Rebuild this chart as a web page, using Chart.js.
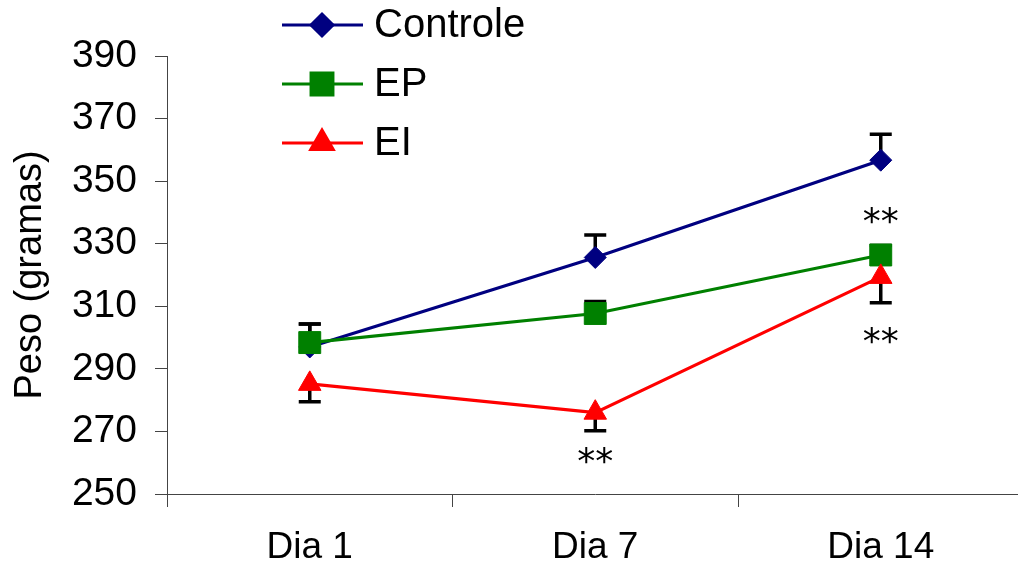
<!DOCTYPE html>
<html>
<head>
<meta charset="utf-8">
<script src="https://cdn.jsdelivr.net/npm/chart.js@4/dist/chart.umd.min.js"></script>
<style>
  html, body { margin: 0; padding: 0; background: #fff; overflow: hidden; }
  #wrap { width: 1040px; height: 571px; }
</style>
</head>
<body>
<div id="wrap"><canvas id="grafico" width="1040" height="571"></canvas></div>
<script>
// dados
const dias = ['Dia 1', 'Dia 7', 'Dia 14'];
const controle = [297, 325.6, 356.7];
const controleErro = [7.3, 7.2, 8.3];
const ep = [298.4, 307.7, 326.4];
const epErro = [5.9, 3.8, 3];
const ei = [285.2, 276, 319.4];
const eiErro = [5.7, 5.8, 8.3];
const ticksY = [250, 270, 290, 310, 330, 350, 370, 390];

// marcas de significância
const sigTexto = ['**', '**', '**'];
const sigDia = ['Dia 7', 'Dia 14', 'Dia 14'];
const sigValor = [261.9, 338.4, 300.3];

const fonte = 'Liberation Sans, Arial, sans-serif';

// barras de erro (controle e EP para cima, EI para baixo)
const barrasErro = {
    id: 'barrasErro',
    beforeDatasetsDraw(chart) {
        const ctx = chart.ctx;
        const x = chart.scales.x, y = chart.scales.y;
        const erros = [controleErro, epErro, eiErro];
        const sentido = [1, 1, -1];
        ctx.save();
        ctx.strokeStyle = '#000';
        ctx.lineWidth = 3.5;
        chart.data.datasets.forEach((ds, i) => {
            ds.data.forEach((v, j) => {
                const px = x.getPixelForValue(j);
                const p0 = y.getPixelForValue(v);
                const p1 = y.getPixelForValue(v + sentido[i] * erros[i][j]);
                ctx.beginPath();
                ctx.moveTo(px, p0);
                ctx.lineTo(px, p1);
                ctx.moveTo(px - 11, p1);
                ctx.lineTo(px + 11, p1);
                ctx.stroke();
            });
        });
        ctx.restore();
    },
    afterDatasetsDraw(chart) {
        const ctx = chart.ctx;
        const x = chart.scales.x, y = chart.scales.y;
        ctx.save();
        ctx.fillStyle = '#000';
        ctx.font = '36px "DejaVu Sans", sans-serif';
        ctx.textAlign = 'center';
        ctx.textBaseline = 'alphabetic';
        sigTexto.forEach((t, k) => {
            const px = x.getPixelForValue(dias.indexOf(sigDia[k]));
            const py = y.getPixelForValue(sigValor[k]);
            ctx.fillText(t, px, py + 16);
        });
        ctx.restore();
    }
};

// legenda vertical no canto superior
const legenda = {
    id: 'legenda',
    afterDraw(chart) {
        const ctx = chart.ctx;
        ctx.save();
        chart.data.datasets.forEach((ds, i) => {
            const yy = 25 + i * 59;
            ctx.strokeStyle = ds.borderColor;
            ctx.lineWidth = 3;
            ctx.beginPath();
            ctx.moveTo(282, yy);
            ctx.lineTo(363, yy);
            ctx.stroke();
            ctx.fillStyle = ds.backgroundColor;
            Chart.helpers.drawPoint(ctx, {
                pointStyle: ds.pointStyle,
                radius: ds.pointRadius,
                borderWidth: 1
            }, 322, yy);
            ctx.fillStyle = '#000';
            ctx.font = '40px ' + fonte;
            ctx.textAlign = 'left';
            ctx.textBaseline = 'middle';
            ctx.fillText(ds.label, 374, yy + 1);
        });
        ctx.restore();
    }
};

new Chart(document.getElementById('grafico').getContext('2d'), {
    type: 'line',
    data: {
        labels: dias,
        datasets: [
            {
                label: 'Controle', data: controle, order: 3,
                borderColor: '#000080', backgroundColor: '#000080',
                pointStyle: 'rectRot', pointRadius: 11, pointBorderWidth: 1
            },
            {
                label: 'EP', data: ep, order: 2,
                borderColor: '#008000', backgroundColor: '#008000',
                pointStyle: 'rect', pointRadius: 15.5, pointBorderWidth: 1
            },
            {
                label: 'EI', data: ei, order: 1,
                borderColor: '#ff0000', backgroundColor: '#ff0000',
                pointStyle: 'triangle', pointRadius: 13, pointBorderWidth: 1
            }
        ]
    },
    options: {
        responsive: false,
        animation: false,
        elements: { line: { borderWidth: 3.2, tension: 0 } },
        layout: { padding: { top: 56, right: 14, left: 0, bottom: 0 } },
        plugins: { legend: { display: false }, tooltip: { enabled: false } },
        scales: {
            x: {
                offset: true,
                grid: { offset: true, drawOnChartArea: false, tickLength: 13, color: '#444' },
                border: { color: '#444', width: 1 },
                ticks: { color: '#000', padding: 19, font: { family: fonte, size: 37 } },
                afterFit(s) { s.height = 77; }
            },
            y: {
                min: 250, max: 390,
                afterBuildTicks(s) { s.ticks = ticksY.map(v => ({ value: v })); },
                grid: { drawOnChartArea: false, tickLength: 12, color: '#444' },
                border: { color: '#444', width: 1 },
                ticks: { color: '#000', padding: 18, font: { family: fonte, size: 39 } },
                title: {
                    display: true, text: 'Peso (gramas)', color: '#000',
                    padding: { top: 8, bottom: 0 },
                    font: { family: fonte, size: 38 }
                },
                afterFit(s) { s.width = 167; }
            }
        }
    },
    plugins: [barrasErro, legenda]
});
</script>
</body>
</html>
